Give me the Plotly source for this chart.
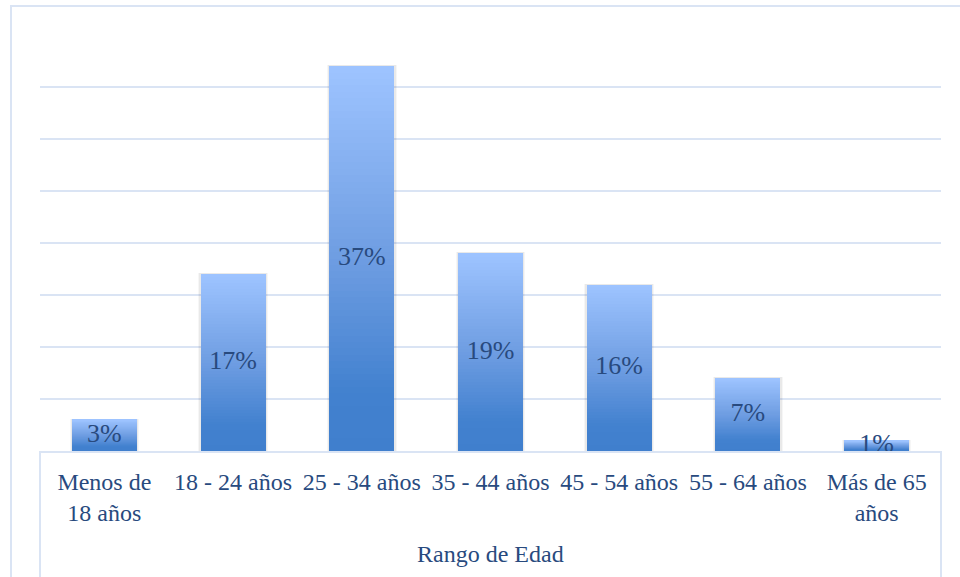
import plotly.graph_objects as go

# Age-range distribution (percent of respondents)
categories = ["Menos de<br>18 años", "18 - 24 años", "25 - 34 años", "35 - 44 años",
              "45 - 54 años", "55 - 64 años", "Más de 65<br>años"]
values = [3, 17, 37, 19, 16, 7, 1]
labels = [f"{v}%" for v in values]
axis_title = "Rango de Edad"

FONT = "Liberation Serif"
TEXT = "#284A7E"
LINE = "#DAE4F4"
BAR_W = 0.505
N_SLICES = 60

# vertical gradient stops, measured from the bar's base (0) to its top (1)
stops = [(0.0, (64, 127, 205)), (0.15, (66, 129, 207)), (0.5, (110, 157, 226)), (1.0, (158, 196, 255))]


def grad(t):
    for (t0, c0), (t1, c1) in zip(stops[:-1], stops[1:]):
        if t <= t1:
            f = (t - t0) / (t1 - t0) if t1 > t0 else 0
            return "rgb(%d,%d,%d)" % tuple(round(a + (b - a) * f) for a, b in zip(c0, c1))
    return "rgb(%d,%d,%d)" % stops[-1][1]


x = list(range(len(categories)))
fig = go.Figure()

# soft shadow behind the bars
for spread, alpha in [(0.035, 0.035), (0.02, 0.05)]:
    fig.add_trace(go.Bar(
        x=x, y=[v + 0.1 for v in values], base=[0] * len(values),
        width=BAR_W + spread, marker=dict(color=f"rgba(0,0,0,{alpha})", line=dict(width=0)),
        hoverinfo="skip", showlegend=False))

# gradient-filled bars: each layer spans from its own fraction of the bar up to the top
for k in range(N_SLICES):
    t = k / N_SLICES
    fig.add_trace(go.Bar(
        x=x, y=[v * (1 - t) for v in values], base=[v * t for v in values],
        width=BAR_W, marker=dict(color=grad(t + 0.5 / N_SLICES), line=dict(width=0)),
        hoverinfo="skip", showlegend=False))

# value labels centred in each bar
fig.add_trace(go.Scatter(
    x=x, y=[v / 2 for v in values], mode="text", text=labels,
    textfont=dict(family=FONT, size=26, color=TEXT),
    hoverinfo="skip", showlegend=False))

W, H = 960, 577
L, R, T, B = 40, 19, 35, 126
pw, ph = W - L - R, H - T - B


def px(xp):
    return (xp - L) / pw


def py(yp):
    return (H - B - yp) / ph


fig.update_layout(
    width=W, height=H, margin=dict(l=L, r=R, t=T, b=B),
    barmode="overlay", bargap=0,
    plot_bgcolor="white", paper_bgcolor="white",
    font=dict(family=FONT, color=TEXT, size=24),
    xaxis=dict(
        tickmode="array", tickvals=x, ticktext=categories,
        range=[-0.5, len(categories) - 0.5],
        showgrid=False, zeroline=False, showline=True, linecolor=LINE, linewidth=2,
        ticks="", ticklabelstandoff=8,
        tickfont=dict(family=FONT, size=24, color=TEXT),
    ),
    yaxis=dict(
        range=[0, 40], dtick=5, showticklabels=False,
        showgrid=True, gridcolor=LINE, gridwidth=2,
        zeroline=False, showline=False, ticks="",
    ),
    annotations=[dict(
        text=axis_title, xref="paper", yref="paper", x=0.5, y=py(554),
        xanchor="center", yanchor="middle", showarrow=False,
        font=dict(family=FONT, size=24, color=TEXT))],
    shapes=[
        # bracket around the category axis
        dict(type="line", xref="paper", yref="paper", x0=0, x1=0, y0=0, y1=py(577),
             line=dict(color=LINE, width=2)),
        dict(type="line", xref="paper", yref="paper", x0=1, x1=1, y0=0, y1=py(577),
             line=dict(color=LINE, width=2)),
        # chart frame
        dict(type="path", xref="paper", yref="paper",
             path=f"M {px(11)} {py(590)} L {px(11)} {py(6)} L {px(975)} {py(6)}",
             line=dict(color=LINE, width=2)),
    ],
)

fig.write_html("out.html")
